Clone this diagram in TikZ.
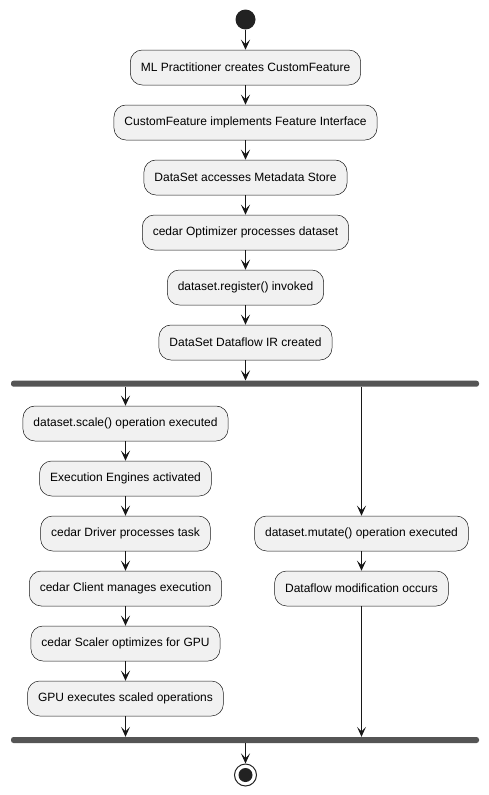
\documentclass[tikz,border=0pt]{standalone}
\usepackage{fontspec}
\setmainfont{Liberation Sans}
\usetikzlibrary{arrows.meta}
\definecolor{boxfill}{HTML}{F1F1F1}
\definecolor{boxline}{HTML}{181818}
\definecolor{barcol}{HTML}{555555}
\definecolor{dotcol}{HTML}{222222}
\begin{document}
\begin{tikzpicture}[x=1pt,y=-1pt,
  act/.style={draw=boxline,line width=0.5pt,fill=boxfill,rounded corners=12pt,
    minimum height=35pt,inner xsep=10.5pt,inner ysep=0pt,font=\fontsize{12pt}{14pt}\selectfont},
  bar/.style={fill=barcol,draw=none,rounded corners=2.5pt,minimum width=468pt,minimum height=6pt,inner sep=0pt},
  arr/.style={draw=boxline,line width=1pt,-{Stealth[length=10pt,width=9pt,inset=4.5pt]}},
  ln/.style={draw=boxline,line width=1pt}]
\useasboundingbox (0,0) rectangle (489,795);
\node[circle,fill=dotcol,minimum size=20pt,inner sep=0pt] (start) at (245.5,19.5) {};
\node[act] (a1) at (245.5,67.5) {ML Practitioner creates CustomFeature};
\node[act] (a2) at (245.5,122.5) {CustomFeature implements Feature Interface};
\node[act] (a3) at (245.5,177.5) {DataSet accesses Metadata Store};
\node[act] (a4) at (245.5,232.5) {cedar Optimizer processes dataset};
\node[act] (a5) at (245.5,287.5) {dataset.register() invoked};
\node[act] (a6) at (245.5,342.5) {DataSet Dataflow IR created};
\node[bar] (fork) at (245,383.7) {};
\node[act] (l1) at (125.5,423.5) {dataset.scale() operation executed};
\node[act] (l2) at (125.5,478.5) {Execution Engines activated};
\node[act] (l3) at (125.5,533.5) {cedar Driver processes task};
\node[act] (l4) at (125.5,588.5) {cedar Client manages execution};
\node[act] (l5) at (125.5,643.5) {cedar Scaler optimizes for GPU};
\node[act] (l6) at (125.5,698.5) {GPU executes scaled operations};
\node[act] (r1) at (361.5,533.5) {dataset.mutate() operation executed};
\node[act] (r2) at (361.5,588.5) {Dataflow modification occurs};
\node[bar] (join) at (245,740) {};
\node[circle,draw=dotcol,line width=1pt,minimum size=22pt,inner sep=0pt] (endc) at (245.5,775) {};
\node[circle,fill=dotcol,minimum size=14pt,inner sep=0pt] (endd) at (endc.center) {};
\draw[arr] (start) -- (a1);
\draw[arr] (a1) -- (a2);
\draw[arr] (a2) -- (a3);
\draw[arr] (a3) -- (a4);
\draw[arr] (a4) -- (a5);
\draw[arr] (a5) -- (a6);
\draw[arr] (a6) -- (a6 |- fork.north);
\draw[arr] (fork.south -| l1) -- (l1);
\draw[arr] (l1) -- (l2);
\draw[arr] (l2) -- (l3);
\draw[arr] (l3) -- (l4);
\draw[arr] (l4) -- (l5);
\draw[arr] (l5) -- (l6);
\draw[arr] (l6) -- (l6 |- join.north);
\draw[arr] (fork.south -| r1) -- (r1);
\draw[arr] (r1) -- (r2);
\draw[arr] (r2) -- (r2 |- join.north);
\draw[arr] (join.south -| endc) -- (endc);
\end{tikzpicture}
\end{document}
